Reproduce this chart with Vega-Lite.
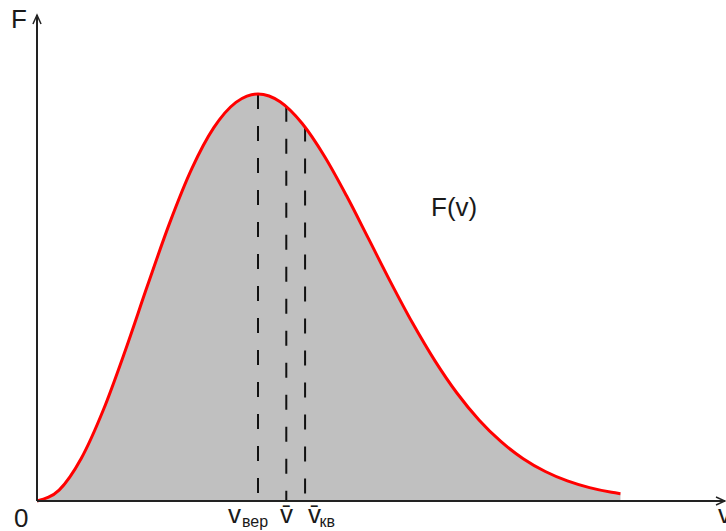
{
  "$schema": "https://vega.github.io/schema/vega-lite/v6.json",
  "width": 689,
  "height": 501,
  "autosize": {"type": "none"},
  "padding": {"left": 37, "top": 0, "right": 0, "bottom": 30},
  "background": "white",
  "config": {"view": {"stroke": null}},
  "datasets": {
    "curve": [
      {"v": 0.0, "F": 0.0},
      {"v": 0.1, "F": 0.0269},
      {"v": 0.2, "F": 0.1045},
      {"v": 0.3, "F": 0.2236},
      {"v": 0.4, "F": 0.3706},
      {"v": 0.5, "F": 0.5293},
      {"v": 0.6, "F": 0.6827},
      {"v": 0.7, "F": 0.8160},
      {"v": 0.8, "F": 0.9173},
      {"v": 0.9, "F": 0.9795},
      {"v": 0.95, "F": 0.9949},
      {"v": 1.0, "F": 1.0},
      {"v": 1.05, "F": 0.9951},
      {"v": 1.1, "F": 0.9808},
      {"v": 1.2, "F": 0.9274},
      {"v": 1.3, "F": 0.8477},
      {"v": 1.4, "F": 0.7505},
      {"v": 1.5, "F": 0.6446},
      {"v": 1.6, "F": 0.5379},
      {"v": 1.7, "F": 0.4366},
      {"v": 1.8, "F": 0.3450},
      {"v": 1.9, "F": 0.2654},
      {"v": 2.0, "F": 0.1991},
      {"v": 2.1, "F": 0.1457},
      {"v": 2.2, "F": 0.1040},
      {"v": 2.3, "F": 0.0725},
      {"v": 2.4, "F": 0.0493},
      {"v": 2.5, "F": 0.0328},
      {"v": 2.6, "F": 0.0213},
      {"v": 2.64, "F": 0.0178}
    ],
    "speeds": [
      {"name": "вер", "v": 1.0, "F": 1.0},
      {"name": "ср", "v": 1.128, "F": 0.969},
      {"name": "кв", "v": 1.213, "F": 0.92}
    ],
    "axes": [
      {"v": 0, "F": 0, "v2": 0, "F2": 1.1941},
      {"v": 0, "F": 0, "v2": 3.1131, "F2": 0}
    ],
    "bigText": [
      {"label": "F", "v": -0.1176, "F": 1.1622},
      {"label": "0", "v": -0.1041, "F": -0.0639},
      {"label": "v", "v": 3.0814, "F": -0.0541},
      {"label": "v", "v": 0.8643, "F": -0.0541},
      {"label": "v̄", "v": 1.0995, "F": -0.0541},
      {"label": "v̄", "v": 1.2262, "F": -0.0541},
      {"label": "F(v)", "v": 1.7828, "F": 0.7002}
    ],
    "subText": [
      {"label": "вер", "v": 0.9276, "F": -0.0639},
      {"label": "кв", "v": 1.2783, "F": -0.0639}
    ]
  },
  "encoding": {
    "x": {"field": "v", "type": "quantitative", "scale": {"domain": [0, 3.1176], "nice": false, "zero": false}, "axis": null},
    "y": {"field": "F", "type": "quantitative", "scale": {"domain": [0, 1.231], "nice": false, "zero": false}, "axis": null}
  },
  "layer": [
    {
      "data": {"name": "curve"},
      "mark": {"type": "area", "color": "#c0c0c0", "interpolate": "monotone"}
    },
    {
      "data": {"name": "speeds"},
      "mark": {"type": "rule", "color": "#111111", "strokeWidth": 2, "strokeDash": [15, 17]},
      "encoding": {"y2": {"datum": 0}}
    },
    {
      "data": {"name": "curve"},
      "mark": {"type": "line", "color": "#ff0000", "strokeWidth": 3, "interpolate": "monotone"}
    },
    {
      "data": {"name": "axes"},
      "mark": {"type": "rule", "color": "#222222", "strokeWidth": 2},
      "encoding": {"x2": {"field": "v2"}, "y2": {"field": "F2"}}
    },
    {
      "data": {"values": [{"v": 0, "F": 1.1941}]},
      "mark": {"type": "point", "shape": "M-0.45,1L0,0L0.45,1", "size": 324, "filled": false, "stroke": "#222222", "strokeWidth": 1.5, "opacity": 1}
    },
    {
      "data": {"values": [{"v": 3.1131, "F": 0}]},
      "mark": {"type": "point", "shape": "M-1,-0.45L0,0L-1,0.45", "size": 324, "filled": false, "stroke": "#222222", "strokeWidth": 1.5, "opacity": 1}
    },
    {
      "data": {"name": "bigText"},
      "mark": {"type": "text", "font": "Liberation Sans", "fontSize": 26, "align": "left", "baseline": "alphabetic", "color": "#1a1a1a"},
      "encoding": {"text": {"field": "label"}}
    },
    {
      "data": {"name": "subText"},
      "mark": {"type": "text", "font": "Liberation Sans", "fontSize": 16, "align": "left", "baseline": "alphabetic", "color": "#1a1a1a"},
      "encoding": {"text": {"field": "label"}}
    }
  ]
}
